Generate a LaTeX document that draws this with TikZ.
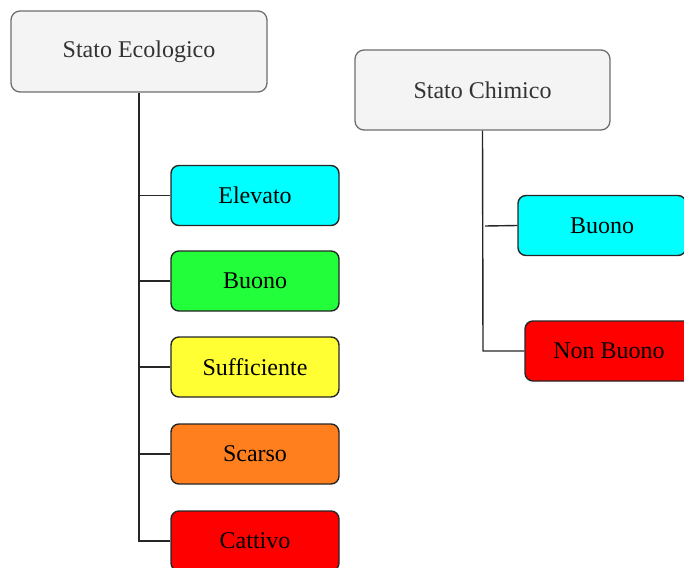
\documentclass[tikz,border=0pt]{standalone}
\usepackage{fontspec}
\setmainfont{Liberation Serif}
\definecolor{hdrfill}{HTML}{F4F4F4}
\definecolor{hdrdraw}{HTML}{6E6E6E}
\definecolor{cyanc}{HTML}{00FFFF}
\definecolor{greenc}{HTML}{22FF3A}
\definecolor{yellowc}{HTML}{FFFF33}
\definecolor{orangec}{HTML}{FF7F1E}
\definecolor{redc}{HTML}{FF0000}
\begin{document}
\begin{tikzpicture}[x=1pt,y=-1pt,
  hdr/.style={draw=hdrdraw,line width=1.3pt,fill=hdrfill,rounded corners=9pt,
    minimum width=256pt,minimum height=81pt,inner sep=0pt,text=black!80,
    font=\fontsize{24}{28}\selectfont},
  leaf/.style={draw=black!85,line width=1.4pt,rounded corners=8pt,
    minimum width=168pt,minimum height=60pt,inner sep=0pt,
    font=\fontsize{24}{28}\selectfont},
  conn/.style={draw=black!85,line width=1.4pt}]
\useasboundingbox (0,0) rectangle (684,567);
\clip (0,0) rectangle (684,567);
\node[hdr] (eco) at (139,51.5) {Stato Ecologico};
\node[hdr,minimum width=255pt,minimum height=80pt] (chi) at (482.5,90) {Stato Chimico};
\node[leaf,fill=cyanc] (elev) at (255,195.5) {Elevato};
\node[leaf,fill=greenc] (buo) at (255,281) {Buono};
\node[leaf,fill=yellowc] (suff) at (255,367) {Sufficiente};
\node[leaf,fill=orangec] (scar) at (255,454) {Scarso};
\node[leaf,fill=redc] (catt) at (255,541) {Cattivo};
\node[leaf,fill=cyanc] (cbuo) at (602,225.5) {Buono};
\node[leaf,fill=redc] (cnon) at (609,351) {Non Buono};
\coordinate (ecoend) at (139,541);
\coordinate (chiend) at (483,351);
\coordinate (gapstart) at (485,226);
\draw[conn] (eco.south) -- (ecoend) -- (catt.west);
\draw[conn] (elev.west) -- (elev.west -| eco.south);
\draw[conn] (buo.west) -- (buo.west -| eco.south);
\draw[conn] (suff.west) -- (suff.west -| eco.south);
\draw[conn] (scar.west) -- (scar.west -| eco.south);
\draw[conn] (chi.south) -- (chiend) -- (cnon.west);
\draw[conn] (gapstart) -- (cbuo.west);
\end{tikzpicture}
\end{document}
